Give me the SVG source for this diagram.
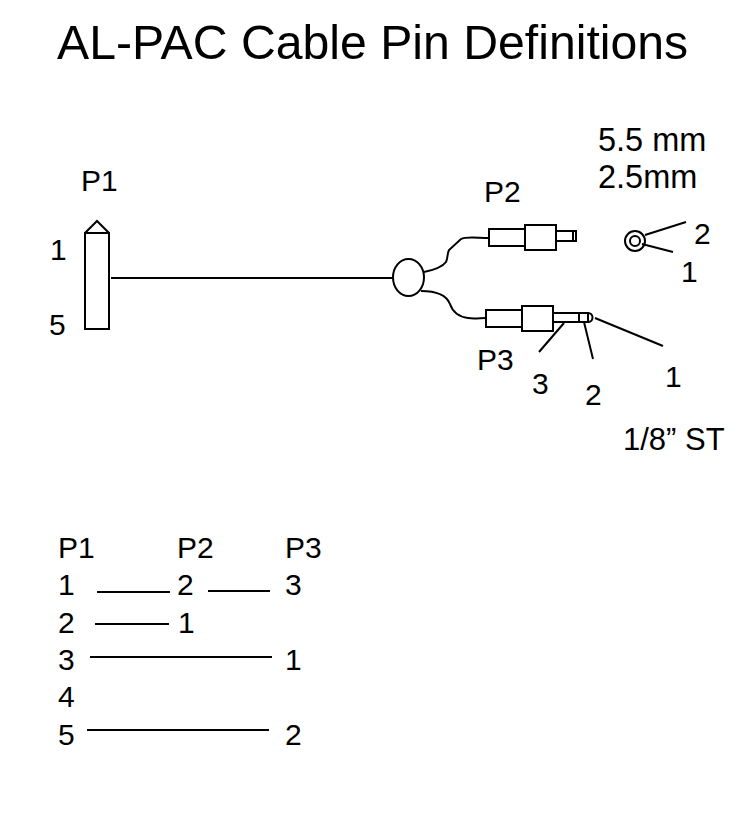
<svg xmlns="http://www.w3.org/2000/svg" width="751" height="837" viewBox="0 0 751 837">
<style>
text{font-family:"Liberation Sans",Arial,sans-serif;font-size:30px;fill:#000}
.t{font-size:48.200px}
.l{font-size:31px}
.m{font-size:32.500px}
.s{fill:none;stroke:#000;stroke-width:2}
.c{fill:none;stroke:#000;stroke-width:2}
</style>
<rect width="751" height="837" fill="#fff"/>
<text class="t" x="57" y="59">AL-PAC Cable Pin Definitions</text>
<g id="P1">
<path class="s" d="M85 233H109V329H85ZM85 233L97 221L109 233"/>
<text x="81" y="191">P1</text><text x="50" y="260">1</text><text x="49" y="335">5</text>
</g>
<g id="splitter"><ellipse class="s" cx="408.500" cy="277.500" rx="15.500" ry="18.500"/></g>
<g id="P2">
<path class="s" d="M489 229H525V246H489ZM525 225H556V250H525ZM556 231H576V241H556ZM573 231V241"/>
<text x="484" y="202">P2</text>
</g>
<g id="P3">
<path class="s" d="M486 310H522V327H486ZM522 306H553V331H522ZM553 313H579V322H553ZM579 313H588V322H579ZM588 313A4.500 4.500 0 1 1 588 322"/>
<text x="477" y="370">P3</text><text x="532" y="394">3</text><text x="585" y="405">2</text><text x="665" y="387">1</text>
<text class="l" x="623" y="450">1/8” ST</text>
</g>
<g id="jack">
<circle class="s" cx="635" cy="241" r="10"/><circle class="s" cx="635" cy="241" r="5"/>
<text class="m" x="598" y="151">5.5 mm</text><text class="m" x="598" y="188">2.5mm</text>
<text x="694" y="244">2</text><text x="681" y="282">1</text>
</g>
<g id="connectors">
<path class="c" d="M111 278H393"/>
<path class="c" d="M424 272C434 270 443 266 446 262C448 258 447 254 449 250L461 239C466 236 478 238 489 238"/>
<path class="c" d="M421 291C434 291 446 294 450 304C453 313 460 317 468 318C474 319 480 318 486 318"/>
<path class="c" d="M564 323L539 352M584 322L593 359M595 318L663 346"/>
<path class="c" d="M645 235L686 222M642 244L673 252"/>
</g>
<g id="table">
<text x="58" y="558">P1</text><text x="177" y="558">P2</text><text x="285" y="558">P3</text>
<text x="58" y="595">1</text><text x="177" y="595">2</text><text x="285" y="595">3</text>
<text x="58" y="633">2</text><text x="178" y="633">1</text>
<text x="58" y="670">3</text><text x="285" y="670">1</text>
<text x="58" y="707">4</text>
<text x="58" y="745">5</text><text x="285" y="745">2</text>
<path class="c" d="M97 592H170M208 591H270M95 624H169M90 657H272M87 730H269"/>
</g>
</svg>
